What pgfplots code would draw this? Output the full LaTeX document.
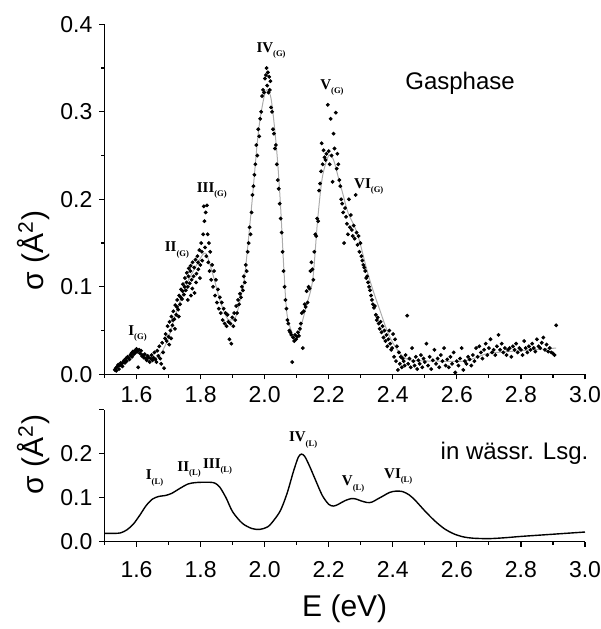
\documentclass[border=0pt]{standalone}
\usepackage{fontspec}
\setmainfont{Liberation Sans}
\newfontfamily\tnr{Liberation Serif}
\usepackage{pgfplots}
\pgfplotsset{compat=1.18}
\newcommand\sbx[1]{\raisebox{-0.28em}{\fontsize{4.3}{5}\selectfont #1}}
\tikzset{pk/.style={font=\tnr\bfseries\fontsize{7.5}{8}\selectfont, inner sep=0pt}}
\pgfplotsset{
  myaxis/.style={
    scale only axis, width=240.25pt, xmin=1.5, xmax=3.0,
    axis x line*=bottom, axis y line*=left,
    axis line style={-, line width=0.6pt},
    tick style={black, line width=0.6pt},
    tick align=outside,
    major tick length=2.5pt, minor tick length=1.6pt,
    xtick={1.6,1.8,2.0,2.2,2.4,2.6,2.8,3.0},
    minor xtick={1.5,1.7,1.9,2.1,2.3,2.5,2.7,2.9},
    /pgf/number format/assume math mode=true,
    ticklabel style={font=\fontsize{11.5}{12}\selectfont},
    xticklabel style={/pgf/number format/fixed, /pgf/number format/fixed zerofill, /pgf/number format/precision=1},
    yticklabel style={/pgf/number format/fixed, /pgf/number format/fixed zerofill, /pgf/number format/precision=1},
    label style={font=\fontsize{15}{16}\selectfont},
    clip=false,
  },
}
\begin{document}
\begin{tikzpicture}
\useasboundingbox (-52.25pt,-127.35pt) rectangle (248.25pt,187.15pt);
% ---------------- top panel: gas phase ----------------
\begin{axis}[myaxis, at={(0pt,0pt)}, anchor=south west, height=175pt,
  ymin=0, ymax=0.4, ytick={0,0.1,0.2,0.3,0.4}, minor ytick={0.05,0.15,0.25,0.35},
  ylabel={σ (Å\textsuperscript{2})},
  ylabel style={at={(axis description cs:-0.148,0.354)}, anchor=center}]
\addplot[gray!65, line width=0.5pt, smooth, tension=0.5] coordinates {
(1.53,0.006) (1.56,0.012) (1.58,0.020) (1.60,0.025) (1.62,0.022) (1.64,0.018)
(1.66,0.018) (1.68,0.026) (1.70,0.042) (1.72,0.066) (1.74,0.088) (1.76,0.106)
(1.78,0.120) (1.80,0.133) (1.81,0.138) (1.82,0.136) (1.84,0.112) (1.86,0.085)
(1.88,0.066) (1.89,0.062) (1.91,0.066) (1.93,0.096) (1.94,0.120) (1.96,0.195)
(1.975,0.257) (1.985,0.290) (2.00,0.320) (2.01,0.325) (2.02,0.315) (2.03,0.285)
(2.04,0.245) (2.05,0.190) (2.06,0.120) (2.07,0.068) (2.09,0.043) (2.10,0.040)
(2.11,0.050) (2.13,0.078) (2.15,0.108) (2.165,0.175) (2.18,0.225) (2.20,0.250)
(2.215,0.245) (2.23,0.225) (2.245,0.205) (2.26,0.185) (2.29,0.160) (2.32,0.118)
(2.34,0.094) (2.36,0.073) (2.38,0.052) (2.40,0.036) (2.43,0.021) (2.46,0.016)
(2.55,0.015) (2.62,0.015) (2.66,0.019) (2.70,0.024) (2.80,0.027) (2.91,0.030)};
\addplot[only marks, mark=*, mark size=0.75pt, black] table {
x y
1.532 0.005
1.535 0.007
1.537 0.004
1.540 0.009
1.543 0.011
1.545 0.006
1.548 0.010
1.551 0.013
1.553 0.012
1.556 0.009
1.559 0.014
1.561 0.016
1.564 0.013
1.567 0.018
1.569 0.015
1.572 0.020
1.575 0.019
1.578 0.017
1.581 0.022
1.584 0.024
1.586 0.020
1.589 0.026
1.592 0.023
1.595 0.027
1.597 0.025
1.600 0.029
1.603 0.026
1.605 0.008
1.608 0.028
1.611 0.024
1.614 0.027
1.617 0.021
1.620 0.022
1.623 0.019
1.626 0.023
1.629 0.018
1.632 0.016
1.635 0.021
1.638 0.019
1.641 0.014
1.644 0.018
1.647 0.022
1.650 0.016
1.653 0.019
1.656 0.025
1.659 0.017
1.662 0.014
1.665 0.027
1.668 0.021
1.671 0.032
1.674 0.018
1.677 0.012
1.680 0.036
1.683 0.025
1.686 0.007
1.689 0.041
1.691 0.046
1.694 0.038
1.697 0.055
1.700 0.043
1.703 0.060
1.706 0.050
1.709 0.066
1.712 0.056
1.715 0.072
1.718 0.063
1.721 0.079
1.724 0.068
1.727 0.085
1.730 0.074
1.733 0.090
1.736 0.080
1.739 0.097
1.742 0.086
1.745 0.103
1.748 0.091
1.751 0.110
1.754 0.096
1.757 0.116
1.760 0.100
1.763 0.121
1.766 0.104
1.769 0.124
1.772 0.108
1.775 0.128
1.778 0.112
1.781 0.093
1.784 0.131
1.787 0.115
1.790 0.135
1.793 0.120
1.796 0.142
1.799 0.125
1.802 0.150
1.805 0.130
1.808 0.160
1.810 0.192
1.812 0.175
1.814 0.145
1.816 0.185
1.818 0.135
1.820 0.193
1.822 0.160
1.824 0.128
1.826 0.150
1.828 0.118
1.830 0.140
1.833 0.108
1.836 0.125
1.839 0.100
1.842 0.118
1.845 0.090
1.848 0.108
1.851 0.082
1.854 0.097
1.857 0.075
1.860 0.088
1.702 0.034
1.708 0.041
1.714 0.062
1.720 0.052
1.726 0.077
1.732 0.066
1.738 0.088
1.744 0.095
1.750 0.100
1.756 0.105
1.762 0.112
1.768 0.118
1.774 0.098
1.780 0.122
1.786 0.105
1.792 0.128
1.798 0.110
1.804 0.140
1.760 0.085
1.770 0.090
1.863 0.070
1.866 0.082
1.869 0.062
1.872 0.075
1.875 0.058
1.878 0.070
1.881 0.055
1.884 0.068
1.887 0.060
1.890 0.040
1.893 0.058
1.896 0.035
1.899 0.065
1.902 0.055
1.905 0.070
1.908 0.062
1.911 0.078
1.914 0.070
1.917 0.085
1.920 0.080
1.923 0.092
1.926 0.088
1.929 0.100
1.932 0.096
1.935 0.112
1.938 0.105
1.941 0.125
1.944 0.118
1.947 0.140
1.950 0.150
1.953 0.168
1.956 0.160
1.959 0.185
1.962 0.205
1.965 0.215
1.968 0.228
1.971 0.240
1.974 0.262
1.977 0.250
1.980 0.280
1.983 0.272
1.986 0.292
1.989 0.300
1.992 0.318
1.995 0.325
1.998 0.322
2.001 0.338
2.004 0.342
2.006 0.350
2.008 0.330
2.010 0.345
2.012 0.322
2.014 0.340
2.016 0.325
2.018 0.335
2.020 0.305
2.023 0.300
2.026 0.280
2.029 0.275
2.032 0.258
2.035 0.262
2.038 0.240
2.041 0.222
2.044 0.212
2.047 0.195
2.050 0.178
2.053 0.162
2.056 0.140
2.059 0.118
2.062 0.100
2.065 0.085
2.068 0.075
2.071 0.062
2.074 0.058
2.077 0.050
2.080 0.048
2.083 0.045
2.086 0.014
2.089 0.042
2.092 0.038
2.095 0.045
2.098 0.040
2.101 0.043
2.104 0.048
2.107 0.044
2.110 0.052
2.113 0.058
2.116 0.070
2.119 0.030
2.122 0.072
2.125 0.080
2.128 0.077
2.131 0.095
2.134 0.082
2.137 0.100
2.140 0.098
2.143 0.118
2.146 0.128
2.149 0.120
2.152 0.108
2.155 0.140
2.158 0.160
2.161 0.158
2.164 0.178
2.167 0.175
2.170 0.210
2.173 0.218
2.176 0.232
2.178 0.264
2.181 0.240
2.184 0.256
2.187 0.248
2.190 0.245
2.193 0.252
2.197 0.308
2.200 0.255
2.203 0.240
2.206 0.292
2.209 0.250
2.212 0.220
2.215 0.275
2.218 0.258
2.222 0.299
2.225 0.235
2.227 0.252
2.230 0.240
2.233 0.222
2.236 0.215
2.239 0.200
2.242 0.195
2.245 0.185
2.248 0.150
2.251 0.190
2.254 0.180
2.257 0.172
2.260 0.160
2.263 0.200
2.266 0.168
2.269 0.182
2.272 0.165
2.275 0.158
2.278 0.170
2.281 0.155
2.284 0.205
2.287 0.162
2.290 0.148
2.293 0.158
2.296 0.140
2.299 0.150
2.302 0.135
2.305 0.130
2.308 0.125
2.311 0.122
2.314 0.118
2.317 0.110
2.320 0.112
2.323 0.105
2.326 0.100
2.329 0.096
2.332 0.090
2.335 0.085
2.338 0.080
2.341 0.076
2.344 0.078
2.347 0.068
2.350 0.062
2.353 0.065
2.356 0.058
2.359 0.052
2.362 0.060
2.365 0.048
2.368 0.055
2.371 0.042
2.374 0.050
2.377 0.038
2.380 0.045
2.383 0.032
2.386 0.040
2.389 0.050
2.392 0.035
2.395 0.028
2.398 0.030
2.401 0.046
2.404 0.020
2.407 0.040
2.410 0.015
2.413 0.032
2.416 0.005
2.419 0.025
2.422 0.012
2.425 0.020
2.428 0.008
2.431 0.018
2.434 0.015
2.437 0.010
2.440 0.022
2.445 0.067
2.448 0.012
2.452 0.018
2.456 0.008
2.460 0.030
2.464 0.015
2.468 0.010
2.472 0.020
2.476 0.006
2.480 0.016
2.484 0.012
2.488 0.022
2.492 0.008
2.496 0.018
2.500 0.014
2.505 0.035
2.510 0.010
2.515 0.020
2.520 0.006
2.525 0.016
2.530 0.028
2.535 0.012
2.540 0.018
2.545 0.008
2.550 0.022
2.555 0.015
2.560 0.030
2.565 0.010
2.570 0.017
2.575 0.008
2.580 0.020
2.585 0.012
2.590 0.025
2.595 0.002
2.600 0.015
2.605 0.010
2.610 0.018
2.615 0.030
2.620 0.005
2.625 0.015
2.630 0.012
2.635 0.020
2.640 0.017
2.645 0.010
2.650 0.022
2.655 0.015
2.660 0.030
2.665 0.020
2.670 0.032
2.675 0.025
2.680 0.018
2.685 0.028
2.690 0.035
2.695 0.022
2.700 0.030
2.705 0.040
2.710 0.025
2.715 0.028
2.720 0.022
2.725 0.032
2.730 0.045
2.735 0.028
2.740 0.035
2.745 0.025
2.750 0.030
2.755 0.022
2.760 0.028
2.765 0.030
2.770 0.020
2.775 0.032
2.780 0.028
2.785 0.035
2.790 0.025
2.795 0.030
2.800 0.028
2.805 0.022
2.810 0.038
2.815 0.030
2.820 0.025
2.825 0.032
2.830 0.028
2.835 0.035
2.840 0.030
2.845 0.026
2.850 0.040
2.855 0.032
2.860 0.030
2.865 0.036
2.870 0.042
2.875 0.028
2.880 0.034
2.885 0.026
2.890 0.030
2.895 0.025
2.900 0.024
2.905 0.022
2.910 0.056
};
\node[pk] at (axis cs:1.603,0.047) {I\sbx{(G)}};
\node[pk] at (axis cs:1.726,0.142) {II\sbx{(G)}};
\node[pk] at (axis cs:1.835,0.210) {III\sbx{(G)}};
\node[pk] at (axis cs:2.020,0.370) {IV\sbx{(G)}};
\node[pk] at (axis cs:2.210,0.328) {V\sbx{(G)}};
\node[pk] at (axis cs:2.325,0.215) {VI\sbx{(G)}};
\node[font=\fontsize{12}{13}\selectfont] at (axis cs:2.61,0.333) {Gasphase};
\end{axis}
% ---------------- bottom panel: aqueous solution ----------------
\begin{axis}[myaxis, at={(0pt,-83.7pt)}, anchor=south west, height=66pt,
  ymin=0, ymax=0.3, ytick={0,0.1,0.2,0.3}, yticklabels={0.0,0.1,0.2,{}},
  xticklabel style={yshift=-4pt},
  ylabel={σ (Å\textsuperscript{2})},
  ylabel style={at={(axis description cs:-0.148,0.66)}, anchor=center},
  xlabel={E (eV)},
  xlabel style={at={(axis description cs:0.5,-0.51)}, anchor=center}]
\addplot[black, line width=0.7pt, smooth, tension=0.5] coordinates {
(1.50,0.019) (1.53,0.019) (1.55,0.020) (1.57,0.027) (1.59,0.040) (1.61,0.060)
(1.63,0.082) (1.65,0.097) (1.67,0.103) (1.69,0.105) (1.71,0.110) (1.735,0.121)
(1.76,0.131) (1.78,0.134) (1.80,0.135) (1.83,0.135) (1.845,0.133) (1.86,0.124)
(1.88,0.099) (1.90,0.068) (1.93,0.042) (1.96,0.030) (1.985,0.028) (2.01,0.034)
(2.03,0.050) (2.05,0.072) (2.07,0.110) (2.09,0.160) (2.105,0.192) (2.115,0.199)
(2.125,0.194) (2.14,0.172) (2.16,0.138) (2.18,0.105) (2.20,0.085) (2.215,0.081)
(2.23,0.085) (2.25,0.093) (2.27,0.098) (2.285,0.097) (2.30,0.093) (2.32,0.089)
(2.335,0.090) (2.35,0.096) (2.37,0.104) (2.39,0.112) (2.41,0.115) (2.43,0.114)
(2.45,0.107) (2.47,0.094) (2.50,0.070) (2.53,0.048) (2.56,0.030) (2.59,0.018)
(2.62,0.011) (2.65,0.008) (2.70,0.007) (2.75,0.009) (2.80,0.012) (2.90,0.017)
(3.00,0.022)};
\node[pk] at (axis cs:1.656,0.145) {I\sbx{(L)}};
\node[pk] at (axis cs:1.764,0.165) {II\sbx{(L)}};
\node[pk] at (axis cs:1.853,0.170) {III\sbx{(L)}};
\node[pk] at (axis cs:2.120,0.231) {IV\sbx{(L)}};
\node[pk] at (axis cs:2.276,0.131) {V\sbx{(L)}};
\node[pk] at (axis cs:2.417,0.149) {VI\sbx{(L)}};
\node[font=\fontsize{12}{13}\selectfont] at (axis cs:2.78,0.200) {in wässr. Lsg.};
\end{axis}
\end{tikzpicture}
\end{document}
